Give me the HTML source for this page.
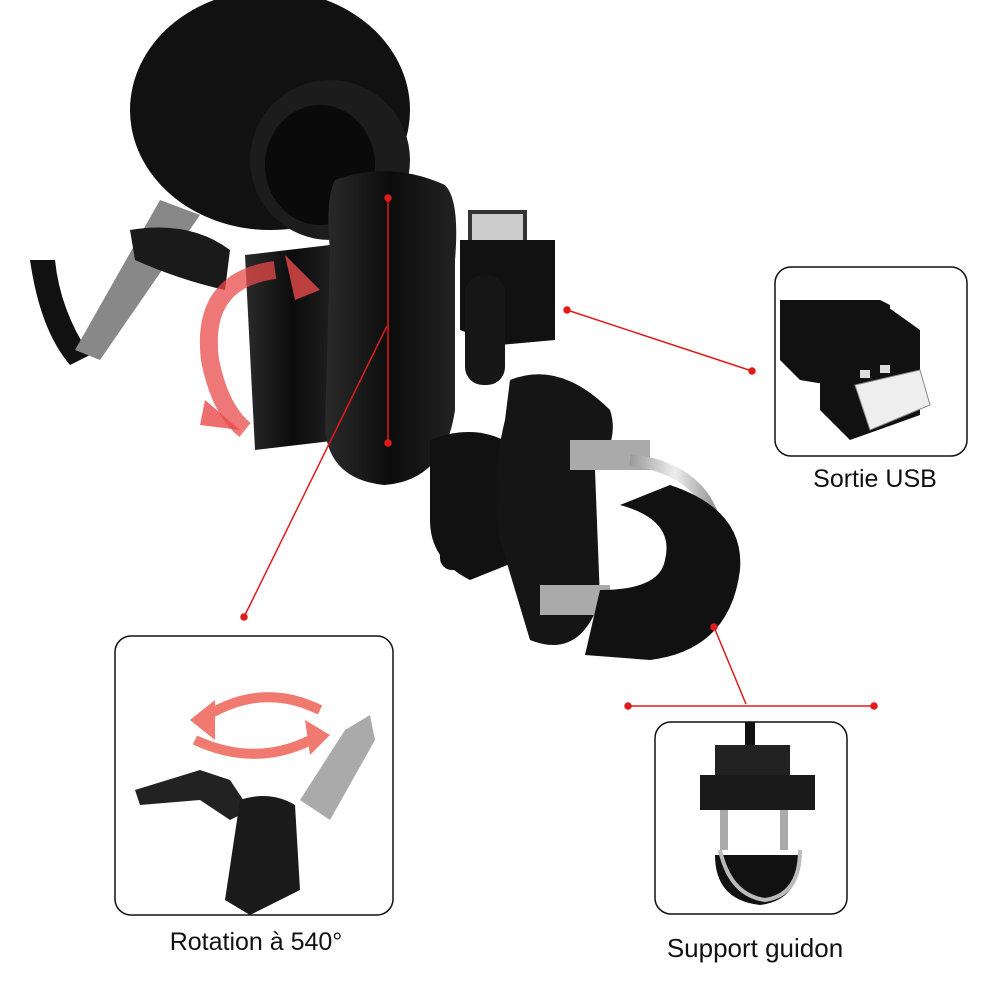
<!DOCTYPE html>
<html><head><meta charset="utf-8"><style>
html,body{margin:0;padding:0;background:#fff;}
svg{display:block}
text{font-family:"Liberation Sans","DejaVu Sans",sans-serif;fill:#111}
</style></head><body>
<svg width="1000" height="1000" viewBox="0 0 1000 1000" xmlns="http://www.w3.org/2000/svg">
<defs>
<linearGradient id="g1" x1="0" x2="1"><stop offset="0" stop-color="#2a2a2a"/><stop offset="0.5" stop-color="#0c0c0c"/><stop offset="1" stop-color="#222"/></linearGradient>
<linearGradient id="met" x1="0" x2="1"><stop offset="0" stop-color="#999"/><stop offset="0.5" stop-color="#eee"/><stop offset="1" stop-color="#888"/></linearGradient>
</defs>
<ellipse cx="270" cy="110" rx="140" ry="120" fill="#111"/>
<ellipse cx="330" cy="160" rx="80" ry="80" fill="#1c1c1c"/>
<ellipse cx="320" cy="165" rx="55" ry="60" fill="#0a0a0a"/>
<path d="M30 260 Q40 330 70 365 L90 355 Q60 310 55 260 Z" fill="#111"/>
<path d="M160 200 L200 215 L100 360 L75 350 Z" fill="#888"/>
<path d="M130 230 Q190 220 230 250 L225 290 Q180 280 135 260 Z" fill="#1a1a1a"/>
<path d="M245 255 L330 245 L340 440 L255 450 Z" fill="url(#g1)"/>
<path d="M330 300 L400 300 L400 360 L330 370 Z" fill="#222"/>
<path d="M275 270 Q200 280 210 360 Q220 410 245 430" fill="none" stroke="#e84a4a" stroke-width="18" opacity="0.75"/>
<path d="M285 255 L320 290 L295 300 Z" fill="#e84a4a" opacity="0.8"/>
<path d="M205 400 L240 430 L200 425 Z" fill="#e84a4a" opacity="0.8"/>
<path d="M335 180 Q390 160 445 185 Q460 200 455 260 L455 410 Q445 480 385 485 Q330 480 325 430 L330 250 Q325 200 335 180 Z" fill="url(#g1)"/>
<rect x="470" y="212" width="55" height="40" fill="#ccc" stroke="#333" stroke-width="4"/>
<path d="M460 240 L555 240 L555 340 L500 345 L460 330 Z" fill="#111"/>
<rect x="465" y="275" width="40" height="110" rx="18" fill="#161616"/>
<path d="M430 440 Q480 420 520 450 L520 560 L470 580 Q430 560 430 520 Z" fill="#111"/>
<path d="M510 380 Q560 360 610 410 Q620 440 595 470 L600 600 Q580 660 530 640 L500 540 Q490 480 505 420 Z" fill="#151515"/>
<rect x="440" y="520" width="30" height="50" rx="12" fill="#111"/>
<rect x="570" y="440" width="80" height="30" fill="#aaa"/>
<rect x="540" y="585" width="70" height="30" fill="#aaa"/>
<path d="M630 460 Q720 470 720 560 Q715 650 640 650" fill="none" stroke="url(#met)" stroke-width="12"/>
<path d="M670 485 Q745 510 740 570 Q730 650 650 660 L585 655 L600 590 Q660 590 665 560 Q675 520 620 505 Z" fill="#111"/>
<g stroke="#e01b1b" stroke-width="1.5" fill="#e01b1b">
<line x1="567" y1="310" x2="752" y2="371"/><circle cx="567" cy="310" r="3"/><circle cx="752" cy="371" r="3"/>
<line x1="388" y1="198" x2="388" y2="443"/><circle cx="388" cy="198" r="3"/><circle cx="388" cy="443" r="3"/>
<line x1="244" y1="617" x2="387" y2="326"/><circle cx="244" cy="617" r="3"/>
<line x1="714" y1="627" x2="746" y2="704"/><circle cx="714" cy="627" r="3"/>
<line x1="628" y1="706" x2="874" y2="706"/><circle cx="628" cy="706" r="3"/><circle cx="874" cy="706" r="3"/>
</g>
<rect x="775" y="267" width="192" height="189" rx="16" fill="#fff" stroke="#111" stroke-width="1.5"/>
<rect x="115" y="636" width="278" height="279" rx="16" fill="#fff" stroke="#111" stroke-width="1.5"/>
<rect x="655" y="722" width="192" height="192" rx="16" fill="#fff" stroke="#111" stroke-width="1.5"/>
<path d="M780 300 L880 300 L890 305 L890 395 L800 380 L780 360 Z" fill="#111"/>
<path d="M820 340 L885 305 L920 330 L920 415 L850 440 L820 410 Z" fill="#111"/>
<path d="M855 385 L920 370 L930 405 L870 430 Z" fill="#eee" stroke="#888"/>
<rect x="860" y="370" width="10" height="8" fill="#ddd"/><rect x="880" y="365" width="10" height="8" fill="#ddd"/>
<path d="M200 720 Q260 680 320 710" fill="none" stroke="#f07a70" stroke-width="10"/>
<path d="M195 740 Q260 770 320 735" fill="none" stroke="#f07a70" stroke-width="10"/>
<path d="M190 720 L215 700 L215 740 Z" fill="#f07a70"/><path d="M330 735 L305 720 L310 755 Z" fill="#f07a70"/>
<path d="M135 790 L200 770 L230 780 L250 810 L230 820 L200 800 L140 805 Z" fill="#222"/>
<path d="M300 800 L345 730 L370 715 L375 740 L330 820 Z" fill="#aaa"/>
<path d="M240 800 Q270 790 295 805 L300 890 L250 915 L225 900 Z" fill="#1a1a1a"/>
<rect x="745" y="722" width="10" height="30" fill="#111"/>
<path d="M715 745 L790 745 L790 780 L715 780 Z" fill="#222"/>
<rect x="700" y="775" width="115" height="35" fill="#1a1a1a"/>
<rect x="720" y="810" width="8" height="40" fill="#aaa"/><rect x="780" y="810" width="8" height="40" fill="#aaa"/>
<path d="M715 855 L800 855 Q800 900 760 905 Q715 900 715 855 Z" fill="#111"/>
<path d="M720 850 Q730 895 765 900 Q800 895 800 850" fill="none" stroke="#bbb" stroke-width="4"/>
<text x="875" y="487" font-size="25" text-anchor="middle">Sortie USB</text>
<text x="256" y="950" font-size="25" text-anchor="middle">Rotation à 540°</text>
<text x="755" y="957" font-size="26" text-anchor="middle">Support guidon</text>
</svg>
</body></html>
